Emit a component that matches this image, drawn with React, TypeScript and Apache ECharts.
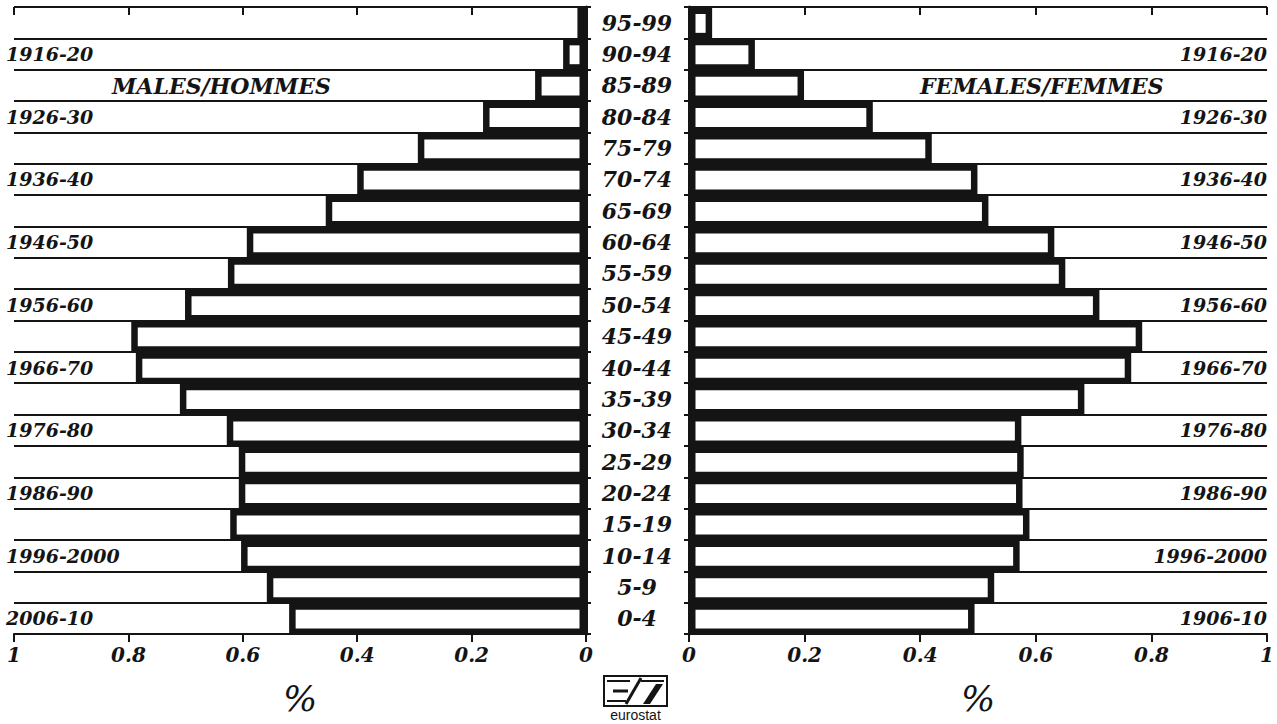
import React, { useEffect, useRef } from "react";
import * as echarts from "echarts";

// Age groups, bottom (0-4) to top (95-99)
const ageGroups = [
  "0-4", "5-9", "10-14", "15-19", "20-24", "25-29", "30-34", "35-39", "40-44", "45-49",
  "50-54", "55-59", "60-64", "65-69", "70-74", "75-79", "80-84", "85-89", "90-94", "95-99",
];

// Share of total population (%), same order as ageGroups
const maleValues = [
  0.519, 0.558, 0.603, 0.622, 0.607, 0.607, 0.628, 0.71, 0.787, 0.795,
  0.701, 0.626, 0.593, 0.455, 0.4, 0.294, 0.18, 0.089, 0.04, 0.015,
];
const femaleValues = [
  0.494, 0.528, 0.572, 0.589, 0.577, 0.579, 0.575, 0.684, 0.765, 0.784,
  0.71, 0.651, 0.632, 0.518, 0.499, 0.42, 0.318, 0.199, 0.114, 0.04,
];

// Birth cohort labels (every other row)
const maleCohorts = [
  "2006-10", "", "1996-2000", "", "1986-90", "", "1976-80", "", "1966-70", "",
  "1956-60", "", "1946-50", "", "1936-40", "", "1926-30", "", "1916-20", "",
];
const femaleCohorts = [
  "1906-10", "", "1996-2000", "", "1986-90", "", "1976-80", "", "1966-70", "",
  "1956-60", "", "1946-50", "", "1936-40", "", "1926-30", "", "1916-20", "",
];

const maleTitle = "MALES/HOMMES";
const femaleTitle = "FEMALES/FEMMES";

const INK = "#141414";
const FONT = "DejaVu Serif";

const makeRender = () => (params: any, api: any) => {
  const v = api.value(0);
  const c = api.value(1);
  const a = api.coord([0, c]);
  const b = api.coord([v, c]);
  const h = api.size([0, 1])[1];
  const x0 = Math.min(a[0], b[0]);
  const x1 = Math.max(a[0], b[0]);
  const top = a[1] - h / 2;
  const children: any[] = [
    { type: "rect", shape: { x: x0, y: top, width: x1 - x0, height: h }, style: { fill: INK } },
  ];
  const inset = 6.5;
  const w = x1 - x0 - inset * 2;
  if (w > 1) {
    children.push({
      type: "rect",
      shape: { x: x0 + inset, y: top + 7, width: w, height: h - 12.5 },
      style: { fill: "#ffffff" },
    });
  }
  return { type: "group", children };
};

const valueAxisLabel = {
  fontFamily: FONT,
  fontWeight: "bold",
  fontStyle: "italic",
  fontSize: 20,
  color: INK,
  margin: 11,
};

const cohortLabel = {
  interval: 0,
  inside: true,
  margin: 0,
  fontFamily: FONT,
  fontWeight: "bold",
  fontStyle: "italic",
  fontSize: 19,
  color: INK,
};

export default function App() {
  const ref = useRef<HTMLDivElement>(null);
  useEffect(() => {
    if (!ref.current) return;
    const chart = echarts.init(ref.current, undefined, { renderer: "svg" });
    const maleData = maleValues.map((v, i) => [v, i]);
    const femaleData = femaleValues.map((v, i) => [v, i]);

    const valueAxis = (gridIndex: number, inverse: boolean) => ({
      type: "value",
      gridIndex,
      min: 0,
      max: 1,
      interval: 0.2,
      inverse,
      name: "%",
      nameLocation: "middle",
      nameGap: 46,
      nameTextStyle: { fontFamily: FONT, fontStyle: "italic", fontSize: 36, color: INK },
      axisLine: { show: true, lineStyle: { color: INK, width: 2 } },
      axisTick: { show: true, length: 8, lineStyle: { color: INK, width: 2 } },
      axisLabel: valueAxisLabel,
      splitLine: { show: false },
    });
    const tickOverlay = (gridIndex: number, inverse: boolean) => ({
      type: "value",
      gridIndex,
      min: 0,
      max: 1,
      interval: 0.2,
      inverse,
      axisLine: { show: false },
      axisTick: { show: true, inside: true, length: 8, lineStyle: { color: INK, width: 2 } },
      axisLabel: { show: false },
      splitLine: { show: false },
    });

    chart.setOption({
      animation: false,
      backgroundColor: "#ffffff",
      grid: [
        { left: 14, right: 691, top: 7, bottom: 90 },
        { left: 689, right: 9, top: 7, bottom: 90 },
      ],
      xAxis: [valueAxis(0, true), tickOverlay(0, true), valueAxis(1, false), tickOverlay(1, false)],
      yAxis: [
        {
          type: "category",
          gridIndex: 0,
          position: "right",
          data: ageGroups,
          axisLine: { show: true, lineStyle: { color: INK, width: 3 } },
          axisTick: { show: true, length: 5, lineStyle: { color: INK, width: 2 } },
          axisLabel: {
            interval: 0,
            align: "center",
            margin: 51,
            fontFamily: FONT,
            fontWeight: "bold",
            fontStyle: "italic",
            fontSize: 22,
            color: INK,
          },
          splitLine: { show: true, interval: 0, lineStyle: { color: INK, width: 1.8 } },
        },
        {
          type: "category",
          gridIndex: 0,
          position: "left",
          offset: 8,
          data: maleCohorts,
          axisLine: { show: false },
          axisTick: { show: false },
          axisLabel: cohortLabel,
          splitLine: { show: false },
        },
        {
          type: "category",
          gridIndex: 1,
          position: "left",
          data: ageGroups,
          axisLine: { show: true, lineStyle: { color: INK, width: 3 } },
          axisTick: { show: true, length: 5, lineStyle: { color: INK, width: 2 } },
          axisLabel: { show: false },
          splitLine: { show: true, interval: 0, lineStyle: { color: INK, width: 1.8 } },
        },
        {
          type: "category",
          gridIndex: 1,
          position: "right",
          data: femaleCohorts,
          axisLine: { show: false },
          axisTick: { show: false },
          axisLabel: cohortLabel,
          splitLine: { show: false },
        },
      ],
      series: [
        {
          type: "custom",
          name: "Males",
          xAxisIndex: 0,
          yAxisIndex: 0,
          encode: { x: 0, y: 1 },
          data: maleData,
          renderItem: makeRender(),
        },
        {
          type: "custom",
          name: "Females",
          xAxisIndex: 2,
          yAxisIndex: 2,
          encode: { x: 0, y: 1 },
          data: femaleData,
          renderItem: makeRender(),
        },
      ],
      graphic: [
        {
          type: "text",
          left: 112,
          top: 75,
          style: {
            text: maleTitle,
            fontFamily: FONT,
            fontWeight: "bold",
            fontStyle: "italic",
            fontSize: 22,
            fill: INK,
          },
        },
        {
          type: "text",
          left: 920,
          top: 75,
          style: {
            text: femaleTitle,
            fontFamily: FONT,
            fontWeight: "bold",
            fontStyle: "italic",
            fontSize: 22,
            fill: INK,
          },
        },
        {
          type: "group",
          children: [
            {
              type: "rect",
              shape: { x: 604, y: 676, width: 63, height: 30 },
              style: { fill: "#fff", stroke: INK, lineWidth: 2 },
            },
            { type: "line", shape: { x1: 607, y1: 681, x2: 630, y2: 681 }, style: { stroke: INK, lineWidth: 2 } },
            { type: "line", shape: { x1: 613, y1: 691, x2: 628, y2: 691 }, style: { stroke: INK, lineWidth: 3 } },
            { type: "line", shape: { x1: 607, y1: 701, x2: 626, y2: 701 }, style: { stroke: INK, lineWidth: 2 } },
            { type: "line", shape: { x1: 626, y1: 704, x2: 641, y2: 678 }, style: { stroke: INK, lineWidth: 3 } },
            { type: "line", shape: { x1: 641, y1: 681, x2: 664, y2: 681 }, style: { stroke: INK, lineWidth: 2 } },
            {
              type: "polygon",
              shape: { points: [[643, 704], [650, 704], [663, 684], [656, 684]] },
              style: { fill: INK },
            },
            {
              type: "text",
              x: 635.5,
              y: 708,
              style: {
                text: "eurostat",
                fontFamily: "Liberation Sans",
                fontSize: 14,
                fill: INK,
                align: "center",
                verticalAlign: "top",
              },
            },
          ],
        },
      ],
    });
    return () => chart.dispose();
  }, []);
  return (
    <div
      ref={ref}
      style={{ position: "absolute", left: 0, top: 0, width: 1277, height: 724, background: "#fff" }}
    />
  );
}
